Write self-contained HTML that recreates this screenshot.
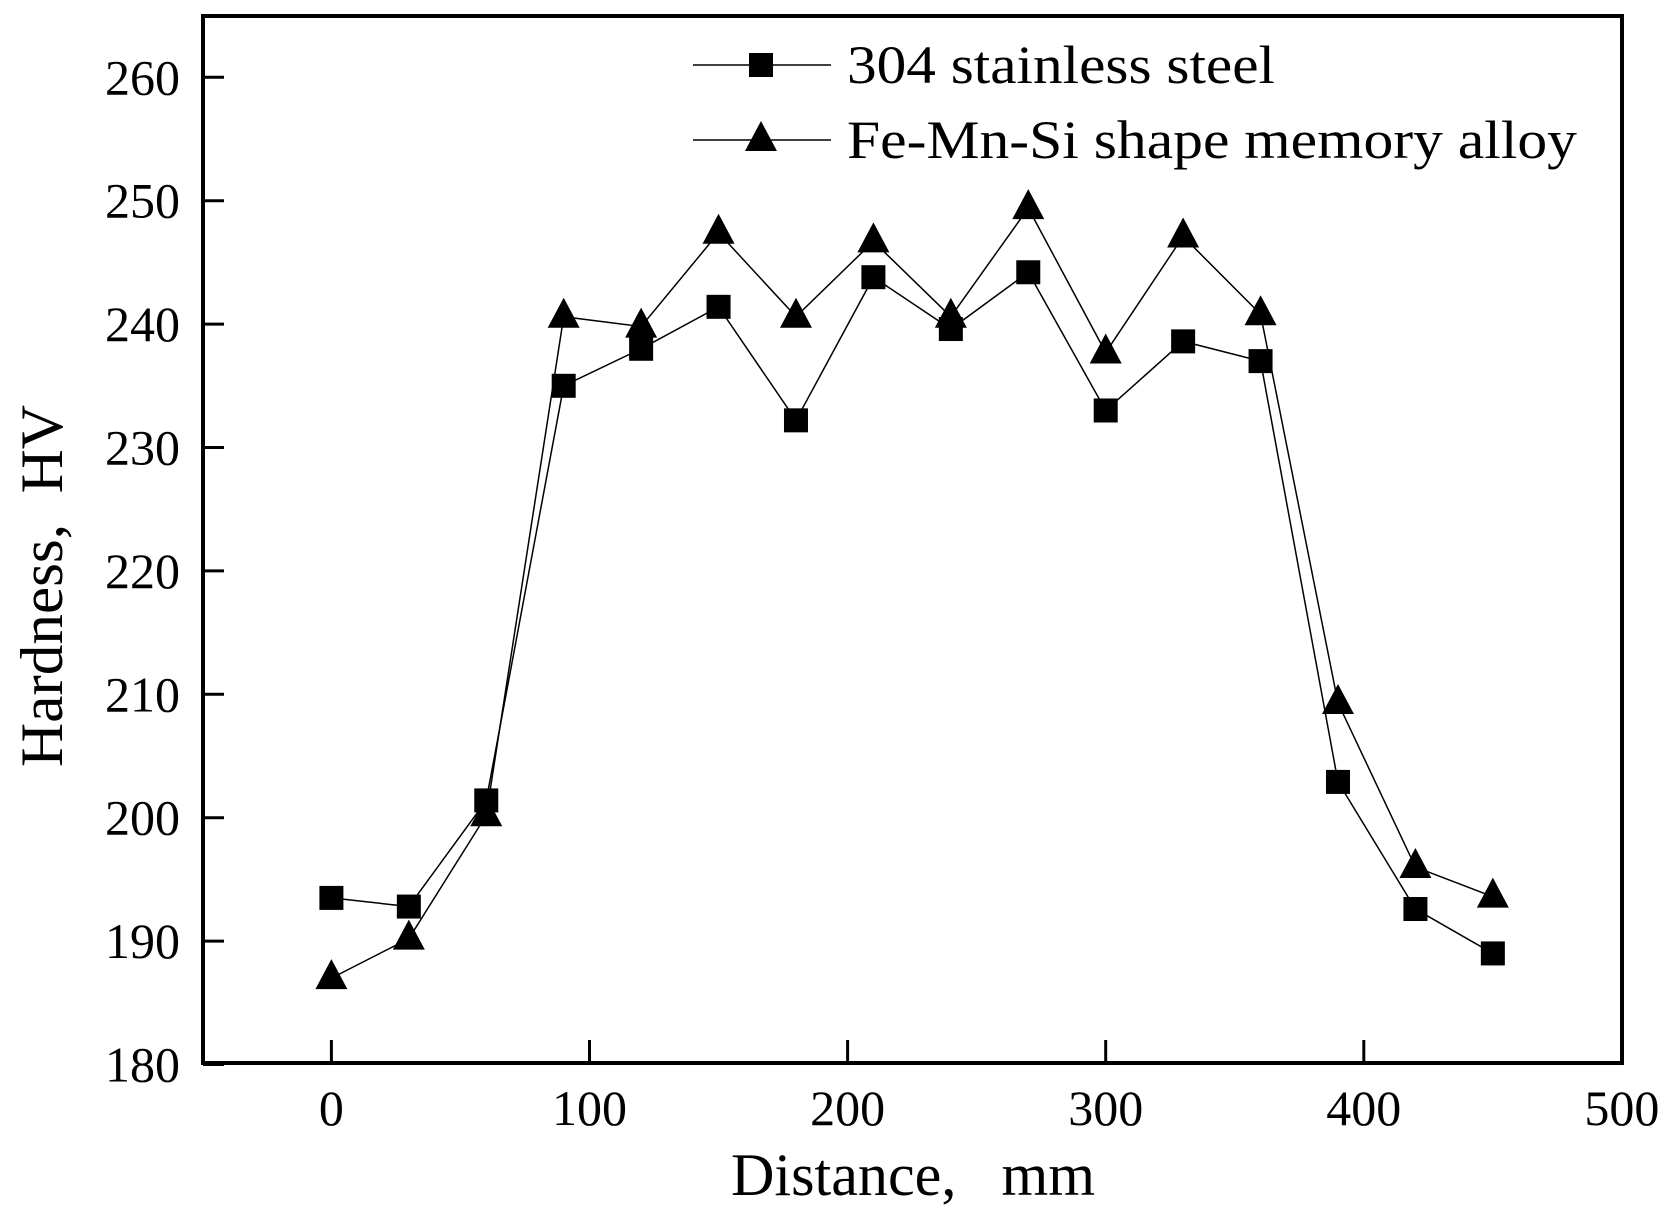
<!DOCTYPE html>
<html><head><meta charset="utf-8"><style>html,body{margin:0;padding:0;background:#fff}text{white-space:pre}</style></head>
<body>
<svg width="1671" height="1212" viewBox="0 0 1671 1212" xmlns="http://www.w3.org/2000/svg" font-family="Liberation Serif, serif" xml:space="preserve">
<defs>
<g id="sq"><rect x="-12" y="-12" width="24" height="24" fill="#000"/></g>
<g id="tr"><polygon points="0,-19 16,11 -16,11" fill="#000"/></g>
</defs>
<rect x="203" y="16" width="1419" height="1047" fill="none" stroke="#000" stroke-width="4"/>
<g id="plot"></g>
<g stroke="#000" stroke-width="3" id="ticks"></g>
<g font-size="50" id="labels"></g>
<text x="913" y="1195" font-size="60" text-anchor="middle" textLength="364" lengthAdjust="spacingAndGlyphs">Distance,   mm</text>
<text transform="translate(62,586) rotate(-90)" font-size="60" text-anchor="middle" textLength="362" lengthAdjust="spacingAndGlyphs">Hardness,  HV</text>
<line x1="693" y1="65" x2="831" y2="65" stroke="#000" stroke-width="1.5"/>
<use href="#sq" x="761" y="65"/>
<line x1="693" y1="140" x2="831" y2="140" stroke="#000" stroke-width="1.5"/>
<use href="#tr" x="761" y="140"/>
<text x="847" y="83" font-size="54" textLength="428" lengthAdjust="spacingAndGlyphs">304 stainless steel</text>
<text x="847" y="158" font-size="54" textLength="730" lengthAdjust="spacingAndGlyphs">Fe-Mn-Si shape memory alloy</text>
</svg>
<script>
const X=v=>331.4+v*2.581, Y=v=>77.3+(260-v)*12.34;
const xs=[0,30,60,90,120,150,180,210,240,270,300,330,360,390,420,450];
const s=[193.5,192.8,201.4,235,238,241.4,232.2,243.8,239.6,244.2,233,238.6,237,202.9,192.6,189];
const t=[187,190.2,200.2,240.6,239.8,247.4,240.6,246.7,240.6,249.4,237.7,247.1,240.8,209.3,196,193.6];
const NS="http://www.w3.org/2000/svg";
const p=document.getElementById('plot');
function el(n,a,par){const e=document.createElementNS(NS,n);for(const k in a)e.setAttribute(k,a[k]);(par||p).appendChild(e);return e;}
[s,t].forEach((d,i)=>{
 el('polyline',{points:xs.map((x,j)=>X(x)+','+Y(d[j])).join(' '),fill:'none',stroke:'#000','stroke-width':1.5});
 xs.forEach((x,j)=>el('use',{href:i?'#tr':'#sq',x:X(x),y:Y(d[j])}));
});
const tk=document.getElementById('ticks'),lb=document.getElementById('labels');
for(let v=0;v<=500;v+=100){el('line',{x1:X(v),x2:X(v),y1:1063,y2:1040},tk);
 const e=el('text',{x:X(v),y:1125,'text-anchor':'middle'},lb);e.textContent=v;}
for(let v=180;v<=260;v+=10){el('line',{x1:203,x2:224,y1:Y(v),y2:Y(v)},tk);
 const e=el('text',{x:180,y:Y(v)+17,'text-anchor':'end'},lb);e.textContent=v;}
</script>
</body></html>
